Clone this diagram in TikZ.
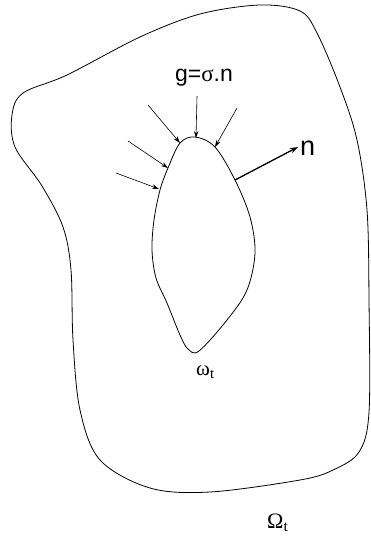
\documentclass[tikz,border=0pt]{standalone}
\usepackage{fontspec}
\setmainfont{Liberation Sans}
\newfontfamily\symfont{Liberation Serif}
\usetikzlibrary{arrows.meta}
\tikzset{
  load/.style={-{Stealth[length=7pt,width=4.5pt]},line width=0.6pt},
  normal/.style={-{Stealth[length=8pt,width=5.5pt]},line width=1.3pt},
  lbl/.style={inner sep=0pt}
}
\begin{document}
\begin{tikzpicture}[x=1pt,y=-1pt]
        \useasboundingbox (0,0) rectangle (371,537);
        % outer domain
        \draw [line width=0.8pt] plot [smooth cycle, tension=0.55] coordinates {(12,115) (23,93) (67,75) (140,37) (200,14) (260,5) (300,11) (317,33) (340,87) (357,140) (367,210) (369,300) (369,412) (359,452) (333,470) (300,480) (210,492) (150,488) (100,460) (80,410) (73,340) (71,270) (63,227) (42,186) (15,147)};
        % inner hole
        \draw [line width=0.8pt] plot [smooth cycle, tension=0.55] coordinates {(195,137) (215,147) (235,180) (250,217) (255,253) (247,290) (227,320) (199,351) (188,349) (180,335) (167,303) (156,278) (152,250) (154,220) (160,190) (168,168) (180,143)};
        % arrows on the hole
        \coordinate (t1) at (148,105); \coordinate (h1) at (180,143);
        \coordinate (t2) at (197,96);  \coordinate (h2) at (196,138);
        \coordinate (t3) at (237,108); \coordinate (h3) at (215,147);
        \coordinate (t4) at (128,141); \coordinate (h4) at (168,168);
        \coordinate (t5) at (116,173); \coordinate (h5) at (159,189);
        \coordinate (n0) at (235,180); \coordinate (n1) at (298,147);
        \foreach \i in {1,...,5} \draw [load] (t\i) -- (h\i);
        \draw [normal] (n0) -- (n1);
        % labels
        \node [lbl,anchor=base,font=\fontsize{23}{26}\selectfont] (g) at (204,82) {g={\symfont σ}.n};
        \node [lbl,anchor=base west,font=\fontsize{27}{30}\selectfont] (n) at (300,156) {n};
        \node [lbl,anchor=base west,font=\symfont\fontsize{21}{24}\selectfont] (omega) at (196,375) {ω\textsubscript{t}};
        \node [lbl,anchor=base west,font=\symfont\fontsize{22}{25}\selectfont] (Omega) at (267,528) {Ω\textsubscript{t}};
\end{tikzpicture}
\end{document}
